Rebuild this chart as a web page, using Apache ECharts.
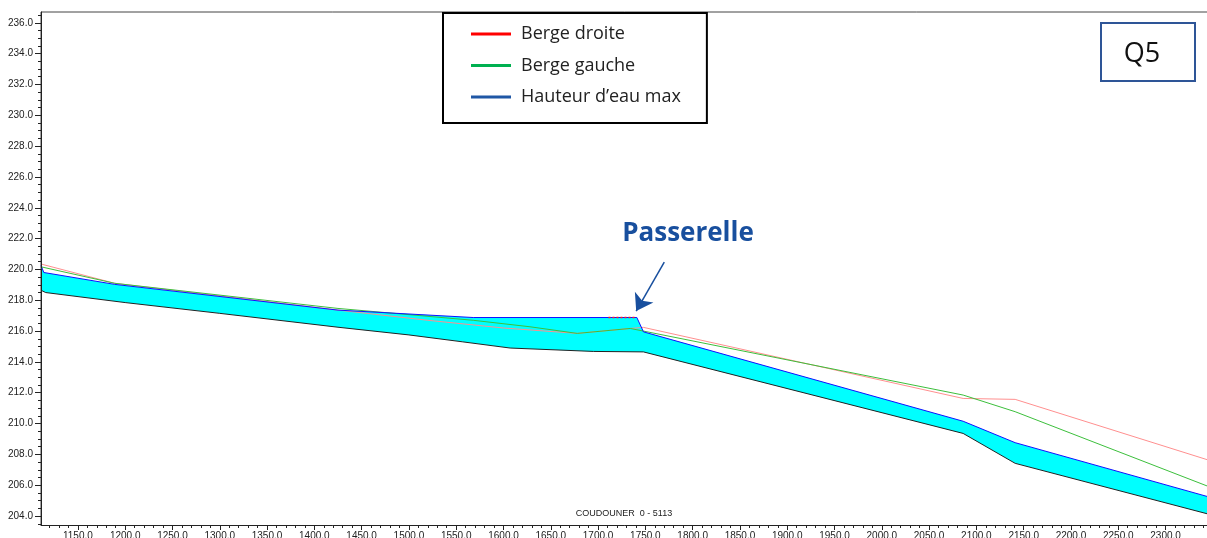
<!DOCTYPE html>
<html>
<head>
<meta charset="utf-8">
<script src="https://cdn.jsdelivr.net/npm/echarts@6/dist/echarts.min.js"></script>
<style>html,body{margin:0;padding:0;background:#fff}#c{width:1207px;height:538px}</style>
</head>
<body>
<div id="c"></div>
<script>
// ---- data (distance along river, elevation) ----
const bedX   = [1111, 1116, 1200, 1300, 1425, 1500, 1557, 1607, 1695, 1748, 2086, 2141, 2347];
const bedY   = [218.65, 218.5, 217.85, 217.15, 216.25, 215.75, 215.3, 214.9, 214.68, 214.65, 209.36, 207.42, 204.1];
const waterX = [1111, 1114, 1189, 1425, 1568, 1741, 1748, 2086, 2141, 2347];
const waterY = [220.25, 219.8, 219.03, 217.36, 216.88, 216.88, 215.95, 210.15, 208.76, 205.22];
const gaucheX = [1111, 1189, 1425, 1568, 1628, 1678, 1734, 1748, 2086, 2141, 2347];
const gaucheY = [220.17, 219.1, 217.47, 216.7, 216.28, 215.85, 216.17, 216.0, 211.85, 210.77, 205.88];
const droiteX = [1111, 1189, 1425, 1520, 1600, 1678, 1734, 1748, 2086, 2141, 2347];
const droiteY = [220.35, 219.1, 217.36, 216.7, 216.2, 215.85, 216.17, 216.24, 211.63, 211.57, 207.6];
const deckX = [1711, 1740];
const deckY = [216.88, 216.88];
const arrowFrom = [1770, 220.48];
const arrowTo = [1740.3, 217.3];
const xMajor = [1150,1200,1250,1300,1350,1400,1450,1500,1550,1600,1650,1700,1750,1800,1850,1900,1950,2000,2050,2100,2150,2200,2250,2300];
const yMajor = [204,206,208,210,212,214,216,218,220,222,224,226,228,230,232,234,236];
const xMinorStep = 10;
const yMinorStep = 0.5;
const xRange = [1111, 2347];
const yRange = [203.42, 236.7];
const names = ['Berge droite', 'Berge gauche', "Hauteur d\u2019eau max"];

const pts = (xs, ys) => xs.map((x, i) => [x, ys[i]]);
const xMinor = [];
for (let v = Math.ceil(xRange[0] / xMinorStep) * xMinorStep; v <= xRange[1]; v += xMinorStep) xMinor.push(v);
const yMinor = [];
for (let v = Math.ceil(yRange[0] / yMinorStep) * yMinorStep; v <= yRange[1] + 1e-9; v += yMinorStep) yMinor.push(+v.toFixed(2));

const lab = { fontFamily: 'Liberation Sans, Arial, sans-serif', fontSize: 10, color: '#222' };
const chart = echarts.init(document.getElementById('c'), null, { renderer: 'canvas' });
const blueDark = '#184f9e';
chart.setOption({
  animation: false,
  backgroundColor: '#fff',
  grid: { left: 41, right: -3, top: 12, bottom: 13, show: true, borderColor: '#444', borderWidth: 1,
    backgroundColor: 'transparent', containLabel: false, outerBoundsMode: 'none' },
  xAxis: [
    { type: 'value', min: xRange[0], max: xRange[1], z: 10,
      axisLine: { show: true, onZero: false, lineStyle: { color: '#222', width: 1 } },
      axisTick: { show: true, customValues: xMajor, length: 5, lineStyle: { color: '#222' } },
      axisLabel: { show: true, customValues: xMajor, formatter: v => v.toFixed(1), margin: 6, ...lab },
      splitLine: { show: false } },
    { type: 'value', min: xRange[0], max: xRange[1], position: 'bottom', z: 10,
      axisLine: { show: false },
      axisTick: { show: true, customValues: xMinor, length: 3, lineStyle: { color: '#222' } },
      axisLabel: { show: false }, splitLine: { show: false } }
  ],
  yAxis: [
    { type: 'value', min: yRange[0], max: yRange[1], z: 10,
      axisLine: { show: true, onZero: false, lineStyle: { color: '#222', width: 1 } },
      axisTick: { show: true, customValues: yMajor, length: 6, lineStyle: { color: '#222' } },
      axisLabel: { show: true, customValues: yMajor, formatter: v => v.toFixed(1), margin: 8, ...lab },
      splitLine: { show: false } },
    { type: 'value', min: yRange[0], max: yRange[1], position: 'left', z: 10,
      axisLine: { show: false },
      axisTick: { show: true, customValues: yMinor, length: 3, lineStyle: { color: '#222' } },
      axisLabel: { show: false }, splitLine: { show: false } }
  ],
  legend: {
    orient: 'vertical', left: 443, top: 13,
    data: [
      { name: names[0], itemStyle: { color: '#ff0000' } },
      { name: names[1], itemStyle: { color: '#00b050' } },
      { name: names[2], itemStyle: { color: '#1f57a5' } }
    ],
    icon: 'rect', itemWidth: 40, itemHeight: 3, itemGap: 11.5,
    textStyle: { fontFamily: 'Open Sans, Noto Sans, sans-serif', fontSize: 18, color: '#222', lineHeight: 20, padding: [0, 0, 0, 5] },
    borderColor: '#000', borderWidth: 2, backgroundColor: '#fff',
    padding: [11, 26, 16, 28],
    selectedMode: false
  },
  graphic: [
    { type: 'rect', shape: { x: 1101, y: 23, width: 94, height: 58 }, style: { fill: '#fff', stroke: '#2e5597', lineWidth: 2 }, z: 20 },
    { type: 'text', x: 1142, y: 54, style: { text: 'Q5', font: '27px "Open Sans", "Noto Sans", sans-serif', fill: '#111', textAlign: 'center', textVerticalAlign: 'middle' }, z: 21 },
    { type: 'text', x: 688, y: 234, style: { text: 'Passerelle', font: 'bold 26px "Open Sans", "Noto Sans", sans-serif', fill: blueDark, textAlign: 'center', textVerticalAlign: 'middle' }, z: 21 },
    { type: 'text', x: 624, y: 514, style: { text: 'COUDOUNER  0 - 5113', font: '9px "Liberation Sans", Arial, sans-serif', fill: '#222', textAlign: 'center', textVerticalAlign: 'middle' }, z: 21 }
  ],
  series: [
    { name: 'waterFill', type: 'line', data: pts(waterX, waterY), symbol: 'none', silent: true, z: 1,
      lineStyle: { width: 0 }, areaStyle: { color: '#00ffff', opacity: 1, origin: 'start' } },
    { name: 'bedMask', type: 'line', data: pts(bedX, bedY), symbol: 'none', silent: true, z: 1,
      lineStyle: { width: 0 }, areaStyle: { color: '#ffffff', opacity: 1, origin: 'start' } },
    { name: names[0], type: 'line', data: pts(droiteX, droiteY), symbol: 'none', z: 3,
      lineStyle: { color: '#ff8f8f', width: 1 }, itemStyle: { color: '#ff0000' } },
    { name: names[1], type: 'line', data: pts(gaucheX, gaucheY), symbol: 'none', z: 3,
      lineStyle: { color: '#3cbf3c', width: 1 }, itemStyle: { color: '#00b050' } },
    { name: names[2], type: 'line', data: pts(waterX, waterY), symbol: 'none', z: 4,
      lineStyle: { color: '#1010ff', width: 1 }, itemStyle: { color: '#1f57a5' } },
    { name: 'bed', type: 'line', data: pts(bedX, bedY), symbol: 'none', z: 4,
      lineStyle: { color: '#222', width: 1 } },
    { name: 'deck', type: 'line', data: pts(deckX, deckY), symbol: 'none', z: 5,
      lineStyle: { color: '#ff2020', width: 1.5, type: [2, 2] },
      markLine: { silent: true, symbol: ['none', 'arrow'], symbolSize: 16, precision: 4, label: { show: false },
        emphasis: { disabled: true },
        lineStyle: { color: blueDark, width: 1.5, type: 'solid' },
        itemStyle: { color: blueDark },
        data: [[{ coord: arrowFrom }, { coord: arrowTo }]] } }
  ]
});
</script>
</body>
</html>
